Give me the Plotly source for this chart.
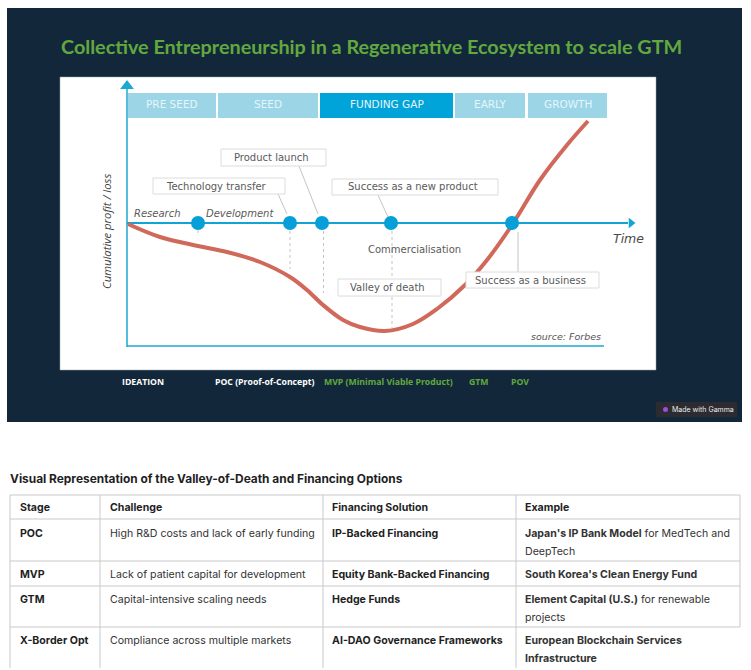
import plotly.graph_objects as go

W, H = 751, 670
# ---------- data ----------
title = "Collective Entrepreneurship in a Regenerative Ecosystem to scale GTM"
curve_time = [1, 33, 71, 100, 133, 163, 180, 196, 216, 233, 258, 286, 310, 338, 360, 385, 413, 440, 461]
curve_profit = [-1, -14, -23, -29, -39, -54, -67, -82, -97, -104, -108, -101, -86, -62, -37, -2, 43, 78, 102]
milestone_time = [71, 163, 195, 264, 385]
phase_names = ["PRE SEED", "SEED", "FUNDING GAP", "EARLY", "GROWTH"]
phase_start = [1, 91, 193, 328, 401]
phase_end = [89, 191, 326, 398, 480]
phase_color = ["#9bd5e6", "#9bd5e6", "#00a4d9", "#9bd5e6", "#9bd5e6"]
stage_notes = ["IDEATION", "POC (Proof-of-Concept)", "MVP (Minimal Viable Product)", "GTM", "POV"]
table_title = "Visual Representation of the Valley-of-Death and Financing Options"
headers = ["Stage", "Challenge", "Financing Solution", "Example"]
stages = ["POC", "MVP", "GTM", "X-Border Opt"]
challenges = ["High R&D costs and lack of early funding", "Lack of patient capital for development",
              "Capital-intensive scaling needs", "Compliance across multiple markets"]
solutions = ["IP-Backed Financing", "Equity Bank-Backed Financing", "Hedge Funds", "AI-DAO Governance Frameworks"]
examples = [["<b>Japan's IP Bank Model</b> for MedTech and", "DeepTech"],
            ["<b>South Korea's Clean Energy Fund</b>"],
            ["<b>Element Capital (U.S.)</b> for renewable", "projects"],
            ["<b>European Blockchain Services</b>", "<b>Infrastructure</b>"]]

# ---------- layout helpers ----------
X0, X1, Y0, Y1 = 127, 634, 80, 347     # plot area in page pixels
ZERO = 223
px = lambda x: x / W
py = lambda y: 1 - y / H
shapes, notes = [], []

def rect(x0, y0, x1, y1, fill, line=None, lw=0):
    shapes.append(dict(type="rect", xref="paper", yref="paper", x0=px(x0), x1=px(x1), y0=py(y0), y1=py(y1),
                       fillcolor=fill, line=dict(color=line or fill, width=lw), layer="below"))

def seg(x0, y0, x1, y1, color, w=1, dash="solid"):
    shapes.append(dict(type="line", xref="paper", yref="paper", x0=px(x0), x1=px(x1), y0=py(y0), y1=py(y1),
                       line=dict(color=color, width=w, dash=dash), layer="below"))

def text(x, y, s, size=11, color="#555555", fam="Open Sans", anchor="center", angle=0):
    notes.append(dict(xref="paper", yref="paper", x=px(x), y=py(y), text=s, showarrow=False, xanchor=anchor,
                      yanchor="middle", textangle=angle, font=dict(size=size, color=color, family=fam),
                      borderpad=0, align="left"))

def box(x0, y0, x1, y1, s):
    shapes.append(dict(type="rect", xref="paper", yref="paper", x0=px(x0), x1=px(x1), y0=py(y0), y1=py(y1),
                       fillcolor="white", line=dict(color="#dcdcdc", width=1), layer="above"))
    text((x0 + x1) / 2 - 2, (y0 + y1) / 2, s, size=10, color="#5a5a5a", fam="DejaVu Sans")

# backgrounds
rect(7, 8, 742, 422, "#12283a")
rect(60, 77, 656, 370, "white", "#9aa5ad", 0.5)
text(371, 46, "<b>%s</b>" % title, size=19.8, color="#62a83e", fam="Lato")

# chart furniture
BLUE = "#1ba9d1"
seg(X0, Y0 + 8, X0, Y1, BLUE, 1.5)
seg(X0, Y1 - 1, 604, Y1 - 1, BLUE, 1.5)
seg(X0, ZERO, X1 - 6, ZERO, "#10a5d6", 2)
# dotted leaders
GREY = "#c4c4c4"
for a in [(198, 230, 198, 236), (290, 231, 290, 269), (323.5, 231, 323.5, 293), (392, 231, 392, 328)]:
    seg(*a, GREY, 1, "3px,3px")
for a in [(278, 194, 287, 214), (299, 166, 318, 214), (378, 195, 388, 217), (518, 272, 518, 232)]:
    seg(*a, GREY, 1)

# label boxes
box(153, 178, 285, 194, "Technology transfer")
box(221, 149, 326, 166, "Product launch")
box(338, 279, 441, 296, "Valley of death")
box(332, 179, 498, 195, "Success as a new product")
box(466, 272, 599, 288, "Success as a business")

text(157, 213, "<i>Research</i>", 10, "#5a5a5a", "DejaVu Sans")
text(240, 213, "<i>Development</i>", 10, "#5a5a5a", "DejaVu Sans")
text(414, 249, "Commercialisation", 10, "#5a5a5a", "DejaVu Sans")
text(628, 238, "<i>Time</i>", 12.5, "#4a4a4a", "DejaVu Sans")
text(602, 336, "<i>source: Forbes</i>", 9.5, "#555555", "DejaVu Sans", "right")
text(106, 232, "<i>Cumulative profit / loss</i>", 11.3, "#444444", "Open Sans", angle=-90)

# phase bands (x from data)
for name, a, b, c in zip(phase_names, phase_start, phase_end, phase_color):
    shapes.append(dict(type="rect", xref="x", x0=a, x1=b, yref="paper", y0=py(118), y1=py(93),
                       fillcolor=c, line=dict(width=0), layer="below"))
    notes.append(dict(xref="x", x=(a + b) / 2, yref="paper", y=py(104.5), yanchor="middle", text=name, showarrow=False,
                      font=dict(size=10.5, color="#e6f5fa", family="DejaVu Sans")))

# under-chart stage notes
for s, x, c in zip(stage_notes, [121, 214, 323, 468, 510], ["#ffffff", "#ffffff", "#62a83e", "#62a83e", "#62a83e"]):
    text(x, 382, "<b>%s</b>" % s, 8.7, c, "Open Sans", "left")

# badge
shapes.append(dict(type="rect", xref="paper", yref="paper", x0=px(656), x1=px(737), y0=py(402), y1=py(417),
                   fillcolor="#2b2b31", line=dict(width=0), layer="below"))
shapes.append(dict(type="circle", xref="paper", yref="paper", x0=px(663), x1=px(668), y0=py(407), y1=py(412),
                   fillcolor="#9b4fd8", line=dict(width=0), layer="above"))
text(671, 409.5, "Made with Gamma", 7, "#eeeeee", "Inter", "left")

# table
text(9, 478, "<b>%s</b>" % table_title, 11.9, "#1f1f1f", "Inter", "left")
LINE = "#c9c9c9"
for y in [495, 519, 561, 586, 627]:
    seg(10, y, 740, y, LINE, 1)
for x in [10, 100, 323, 516]:
    seg(x, 495, x, 668, LINE, 1)
seg(740, 495, 740, 627, LINE, 1)
COLS = [19, 109, 331, 524]
FS = 10.6
INK = "#1f1f1f"
for x, h in zip(COLS, headers):
    text(x, 508, "<b>%s</b>" % h, FS, INK, "Inter", "left")
rows_y = [533, 574, 599, 640]
for y, st, ch, so, ex in zip(rows_y, stages, challenges, solutions, examples):
    text(COLS[0], y, "<b>%s</b>" % st, FS, INK, "Inter", "left")
    text(COLS[1], y, ch, FS, "#333333", "Inter", "left")
    text(COLS[2], y, "<b>%s</b>" % so, FS, INK, "Inter", "left")
    for i, line in enumerate(ex):
        text(COLS[3], y + i * 18, line, FS, "#333333", "Inter", "left")

fig = go.Figure()
fig.add_trace(go.Scatter(x=curve_time, y=curve_profit, mode="lines", line=dict(color="#d1695b", width=4, shape="spline"),
                         hoverinfo="skip", showlegend=False))
fig.add_trace(go.Scatter(x=milestone_time, y=[0] * len(milestone_time), mode="markers",
                         marker=dict(color="#069fd8", size=14, line=dict(width=0)), showlegend=False))
fig.add_trace(go.Scatter(x=[0], y=[ZERO - Y0 - 6], mode="markers", marker=dict(symbol="triangle-up", color=BLUE, size=12),
                         showlegend=False, cliponaxis=False))
fig.add_trace(go.Scatter(x=[X1 - X0 - 3], y=[0], mode="markers", marker=dict(symbol="triangle-right", color="#10a5d6", size=9),
                         showlegend=False, cliponaxis=False))
fig.update_layout(
    width=W, height=H, autosize=False, margin=dict(l=0, r=0, t=0, b=0),
    paper_bgcolor="white", plot_bgcolor="rgba(0,0,0,0)", shapes=shapes, annotations=notes,
    xaxis=dict(domain=[px(X0), px(X1)], range=[0, X1 - X0], visible=False, fixedrange=True),
    yaxis=dict(domain=[py(Y1), py(Y0)], range=[ZERO - Y1, ZERO - Y0], visible=False, fixedrange=True),
)
fig.write_html("out.html", config={"displayModeBar": False},
               post_script="document.body.style.margin='0';document.documentElement.style.overflow='hidden';")
